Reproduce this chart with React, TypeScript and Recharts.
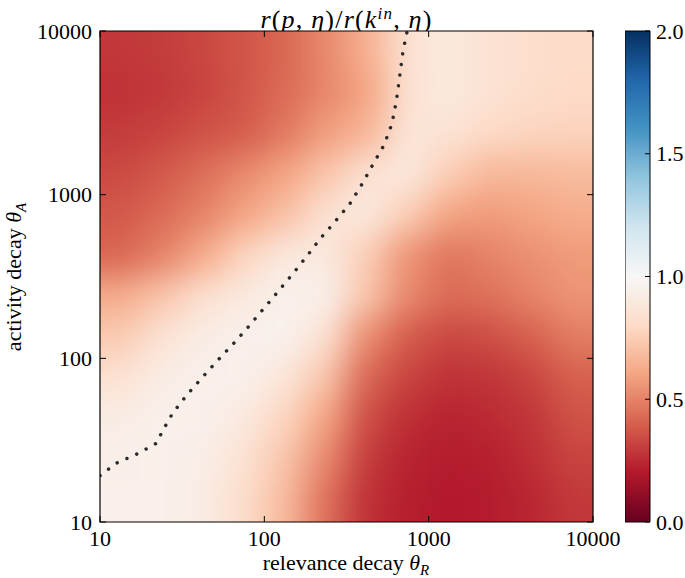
import { ScatterChart, Scatter, XAxis, YAxis, ReferenceArea, BarChart, Bar } from 'recharts'

// grid centres (quarter decades), relevance decay θR across, activity decay θA down (top row first)
const relevanceDecay = [13.34, 23.71, 42.17, 74.99, 133.4, 237.1, 421.7, 749.9, 1334, 2371, 4217, 7499]
const activityDecay = [7499, 4217, 2371, 1334, 749.9, 421.7, 237.1, 133.4, 74.99, 42.17, 23.71, 13.34]

// r(p,η)/r(k_in,η), one row per activityDecay value
const ratio = [
  [0.29, 0.30, 0.33, 0.37, 0.42, 0.52, 0.64, 0.85, 0.90, 0.85, 0.82, 0.81],
  [0.27, 0.29, 0.32, 0.37, 0.43, 0.51, 0.60, 0.84, 0.90, 0.85, 0.82, 0.80],
  [0.30, 0.32, 0.36, 0.39, 0.47, 0.58, 0.66, 0.87, 0.86, 0.80, 0.78, 0.77],
  [0.34, 0.38, 0.44, 0.52, 0.60, 0.72, 0.85, 0.90, 0.75, 0.67, 0.67, 0.68],
  [0.38, 0.43, 0.50, 0.60, 0.70, 0.85, 0.90, 0.75, 0.60, 0.57, 0.60, 0.63],
  [0.42, 0.50, 0.62, 0.78, 0.90, 0.90, 0.75, 0.55, 0.46, 0.50, 0.54, 0.57],
  [0.63, 0.72, 0.84, 0.90, 0.95, 0.95, 0.72, 0.52, 0.43, 0.45, 0.50, 0.55],
  [0.74, 0.86, 0.92, 0.95, 0.96, 0.84, 0.53, 0.39, 0.33, 0.35, 0.40, 0.48],
  [0.85, 0.92, 0.95, 0.95, 0.88, 0.72, 0.42, 0.32, 0.27, 0.28, 0.32, 0.40],
  [0.92, 0.95, 0.95, 0.90, 0.78, 0.60, 0.35, 0.26, 0.23, 0.25, 0.28, 0.36],
  [0.94, 0.95, 0.93, 0.85, 0.72, 0.52, 0.30, 0.23, 0.21, 0.22, 0.26, 0.32],
  [0.95, 0.95, 0.92, 0.82, 0.68, 0.45, 0.27, 0.22, 0.20, 0.21, 0.24, 0.29],
]

// dotted ratio = 1 contour
const contourR = [10, 12.6, 16.9, 22.2, 23.7, 27.7, 33.8, 41.8, 51.8, 64.4, 79.6, 97.8, 120, 147, 180, 218, 270, 331, 391, 456, 535, 598, 636, 663, 691, 732, 745]
const contourA = [19.2, 22.9, 26.1, 30.4, 35.2, 46.3, 59.7, 76.2, 96.8, 122, 155, 198, 253, 323, 416, 536, 686, 877, 1151, 1517, 2010, 2716, 3733, 5093, 7030, 9620, 10000]

const axisTicks = [10, 100, 1000, 10000]
const colorbarTicks = [0, 0.5, 1, 1.5, 2]

const RDBU = ['#67001f', '#b2182b', '#d6604d', '#f4a582', '#fddbc7', '#f7f7f7', '#d1e5f0', '#92c5de', '#4393c3', '#2166ac', '#053061']

const FONT = '"Liberation Serif", "DejaVu Serif", serif'
const W = 685
const H = 578
const PLOT_LEFT = 100
const PLOT_RIGHT = 593
const PLOT_TOP = 31
const PLOT_BOTTOM = 522
const CELL_W = (PLOT_RIGHT - PLOT_LEFT) / relevanceDecay.length
const CELL_H = (PLOT_BOTTOM - PLOT_TOP) / activityDecay.length
const PAD = 60

const hex = (h: string) => [1, 3, 5].map((i) => parseInt(h.slice(i, i + 2), 16))

function rdbu(v: number) {
  const t = Math.max(0, Math.min(1, v / 2)) * 10
  const i = Math.min(9, Math.floor(t))
  const f = t - i
  const a = hex(RDBU[i])
  const b = hex(RDBU[i + 1])
  const c = a.map((x, k) => Math.round(x + (b[k] - x) * f))
  return `rgb(${c[0]},${c[1]},${c[2]})`
}

const cells = activityDecay.flatMap((a, row) =>
  relevanceDecay.map((r, col) => ({ r, a, v: ratio[row][col], row, col }))
)
const contour = contourR.map((r, i) => ({ r, a: contourA[i] }))
const colorbarData = [{ name: 'ratio', top: 2 }]

function HeatCell(props: any) {
  const { cx, cy, payload } = props
  let x0 = cx - CELL_W / 2 - 0.5
  let x1 = cx + CELL_W / 2 + 0.5
  let y0 = cy - CELL_H / 2 - 0.5
  let y1 = cy + CELL_H / 2 + 0.5
  if (payload.col === 0) x0 -= PAD
  if (payload.col === relevanceDecay.length - 1) x1 += PAD
  if (payload.row === 0) y0 -= PAD
  if (payload.row === activityDecay.length - 1) y1 += PAD
  return <rect x={x0} y={y0} width={x1 - x0} height={y1 - y0} fill={rdbu(payload.v)} />
}

function XTick({ x, payload }: any) {
  return (
    <g>
      <line x1={x} x2={x} y1={PLOT_BOTTOM} y2={PLOT_BOTTOM - 6} stroke="#000" />
      <line x1={x} x2={x} y1={PLOT_TOP} y2={PLOT_TOP + 6} stroke="#000" />
      <text x={x} y={546} textAnchor="middle" fontSize={22} fontFamily={FONT} fill="#000">
        {payload.value}
      </text>
    </g>
  )
}

function YTick({ y, payload }: any) {
  return (
    <g>
      <line x1={PLOT_LEFT} x2={PLOT_LEFT + 6} y1={y} y2={y} stroke="#000" />
      <line x1={PLOT_RIGHT} x2={PLOT_RIGHT - 6} y1={y} y2={y} stroke="#000" />
      <text x={92} y={y} textAnchor="end" dominantBaseline="central" fontSize={22} fontFamily={FONT} fill="#000">
        {payload.value}
      </text>
    </g>
  )
}

function ColorbarTick({ y, payload }: any) {
  return (
    <g>
      <line x1={25} x2={20} y1={y} y2={y} stroke="#000" />
      <text x={31} y={y} dominantBaseline="central" fontSize={22} fontFamily={FONT} fill="#000">
        {payload.value.toFixed(1)}
      </text>
    </g>
  )
}

const xLabel = () => (
  <text x={346} y={570} textAnchor="middle" fontSize={22} fontFamily={FONT} fill="#000">
    relevance decay <tspan fontStyle="italic">θ</tspan>
    <tspan fontStyle="italic" fontSize={15} dy={5}>R</tspan>
  </text>
)

const yLabel = () => (
  <text transform="translate(21,277) rotate(-90)" textAnchor="middle" fontSize={22} fontFamily={FONT} fill="#000">
    activity decay <tspan fontStyle="italic">θ</tspan>
    <tspan fontStyle="italic" fontSize={15} dy={5}>A</tspan>
  </text>
)

export default function App() {
  return (
    <div style={{ position: 'relative', width: W, height: H, background: '#fff' }}>
      <style>{`body{margin:0}.heat-layer{filter:url(#heatBlur);clip-path:url(#plotClip)}`}</style>
      <div
        style={{
          position: 'absolute', left: PLOT_LEFT, width: PLOT_RIGHT - PLOT_LEFT, top: 0,
          textAlign: 'center', fontFamily: FONT, fontSize: 26, lineHeight: '28px', letterSpacing: 1.2,
        }}
      >
        <i>r</i>(<i>p</i>, <i>η</i>)/<i>r</i>(<i>k</i>
        <sup style={{ fontSize: 17, fontStyle: 'italic', verticalAlign: 9 }}>in</sup>, <i>η</i>)
      </div>
      <ScatterChart width={W} height={H} margin={{ top: PLOT_TOP, right: W - PLOT_RIGHT, bottom: 0, left: 0 }}>
        <defs>
          <filter id="heatBlur" x="-20%" y="-20%" width="140%" height="140%" colorInterpolationFilters="sRGB">
            <feGaussianBlur stdDeviation={16} />
          </filter>
          <clipPath id="plotClip">
            <rect x={PLOT_LEFT} y={PLOT_TOP} width={PLOT_RIGHT - PLOT_LEFT} height={PLOT_BOTTOM - PLOT_TOP} />
          </clipPath>
        </defs>
        <Scatter className="heat-layer" data={cells} shape={<HeatCell />} isAnimationActive={false} zIndex={0} />
        <ReferenceArea x1={10} x2={10000} y1={10} y2={10000} fill="none" stroke="#000" strokeWidth={1.2} ifOverflow="visible" zIndex={900} />
        <Scatter
          data={contour}
          fill="#2a2a2a"
          shape={() => <g />}
          line={{ stroke: '#2a2a2a', strokeWidth: 3.5, strokeDasharray: '0.01 10.7', strokeLinecap: 'round' }}
          isAnimationActive={false}
          zIndex={800}
        />
        <XAxis
          dataKey="r" type="number" scale="log" domain={[10, 10000]} ticks={axisTicks} allowDataOverflow zIndex={1000}
          height={H - PLOT_BOTTOM} axisLine={false} tickLine={false} tick={<XTick />} label={xLabel}
        />
        <YAxis
          dataKey="a" type="number" scale="log" domain={[10, 10000]} ticks={axisTicks} allowDataOverflow zIndex={1000}
          width={PLOT_LEFT} axisLine={false} tickLine={false} tick={<YTick />} label={yLabel}
        />
      </ScatterChart>
      <div style={{ position: 'absolute', left: 625, top: 0 }}>
        <BarChart width={60} height={H} data={colorbarData} margin={{ top: PLOT_TOP, right: 0, bottom: H - PLOT_BOTTOM, left: 0 }} barCategoryGap={0}>
          <defs>
            <linearGradient id="cbGrad" x1="0" y1="1" x2="0" y2="0">
              {RDBU.map((c, i) => (
                <stop key={c} offset={i / 10} stopColor={c} />
              ))}
            </linearGradient>
          </defs>
          <XAxis dataKey="name" hide />
          <YAxis orientation="right" domain={[0, 2]} ticks={colorbarTicks} width={35} axisLine={false} tickLine={false} tick={<ColorbarTick />} zIndex={1000} />
          <Bar dataKey="top" fill="url(#cbGrad)" stroke="#000" isAnimationActive={false} />
        </BarChart>
      </div>
    </div>
  )
}
